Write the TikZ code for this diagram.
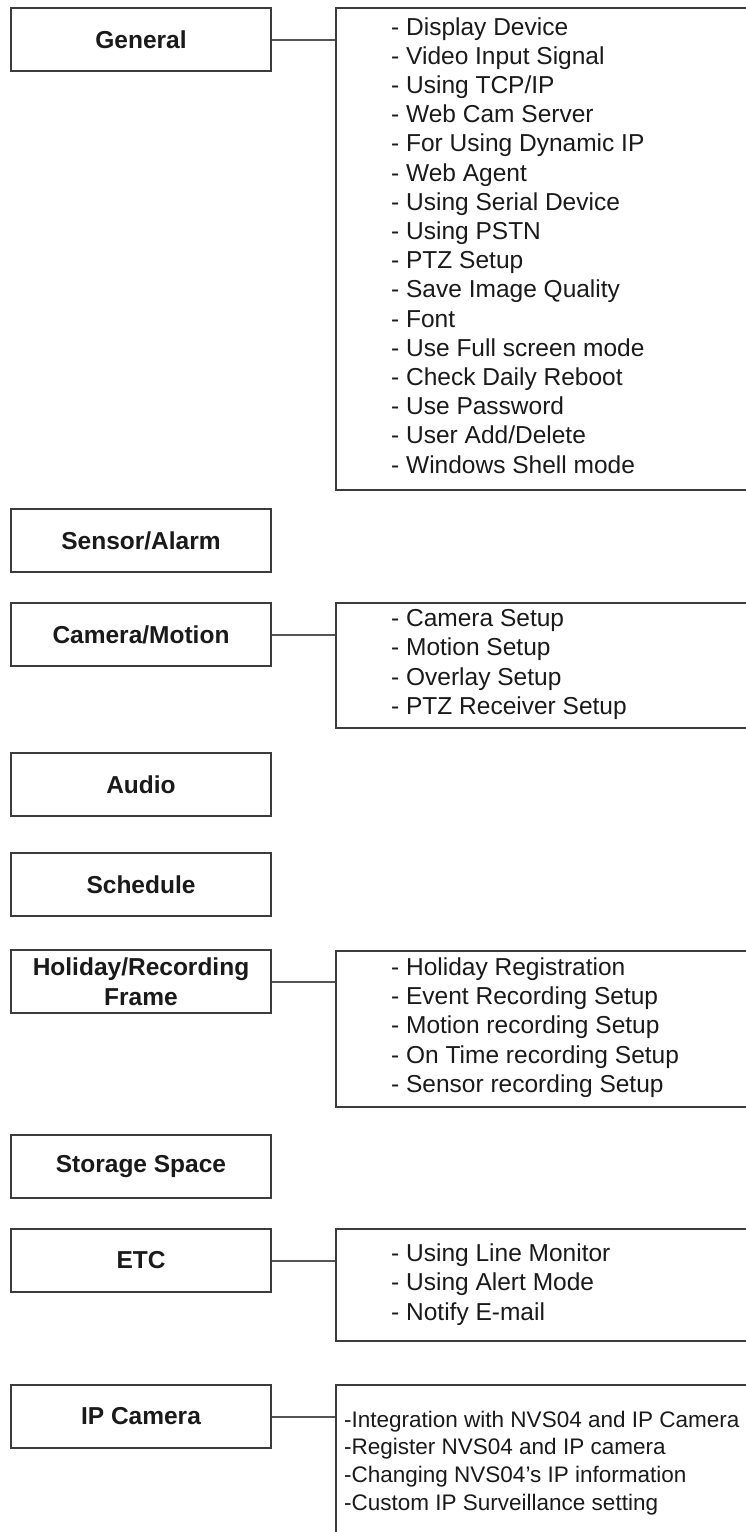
\documentclass[tikz,border=0pt]{standalone}
\usepackage{fontspec}
\setmainfont{Liberation Sans}
\definecolor{bordc}{HTML}{3C3C3C}
\definecolor{linec}{HTML}{555555}
\definecolor{txtc}{HTML}{1A1A1A}
\begin{document}
\begin{tikzpicture}[x=1pt,y=-1pt,
  lbox/.style={draw=bordc, line width=2pt, minimum width=260pt, minimum height=63pt,
    inner sep=0pt, anchor=north west, align=center, text=txtc,
    font=\fontsize{24.5}{30}\selectfont\bfseries},
  rbox/.style={draw=bordc, line width=2pt, inner sep=0pt, anchor=north west, minimum width=440pt},
  item/.style={anchor=base west, inner sep=0pt, text=txtc, font=\fontsize{24.5}{29}\selectfont},
  ipitem/.style={anchor=base west, inner sep=0pt, text=txtc, font=\fontsize{22.5}{27}\selectfont},
  link/.style={draw=linec, line width=2pt}]
\clip (0,0) rectangle (746,1532);
\fill[white] (0,0) rectangle (746,1532);

% left boxes
\node[lbox] (lg) at (10,7) {General};
\node[lbox] (ls) at (10,508) {Sensor/Alarm};
\node[lbox] (lc) at (10,602) {Camera/Motion};
\node[lbox] (la) at (10,752) {Audio};
\node[lbox] (lsc) at (10,852) {Schedule};
\node[lbox] (lh) at (10,949) {Holiday/Recording\\Frame};
\node[lbox] (lst) at (10,1134) {Storage Space};
\node[lbox] (le) at (10,1228) {ETC};
\node[lbox] (li) at (10,1384) {IP Camera};

% right boxes
\node[rbox, minimum height=482pt] (rg) at (335,7) {};
\node[rbox, minimum height=125pt] (rc) at (335,602) {};
\node[rbox, minimum height=156pt] (rh) at (335,950) {};
\node[rbox, minimum height=112pt] (re) at (335,1228) {};
\node[rbox, minimum height=170pt] (ri) at (335,1384) {};

% connectors
\draw[link] (lg.east) -- (lg.east -| rg.west);
\draw[link] (lc.east) -- (lc.east -| rc.west);
\draw[link] (lh.east) -- (lh.east -| rh.west);
\draw[link] (le.east) -- (le.east -| re.west);
\draw[link] (li.east) -- (li.east -| ri.west);

% list texts
\foreach \t [count=\i from 0] in {- Display Device, - Video Input Signal, - Using TCP/IP,
  - Web Cam Server, - For Using Dynamic IP, - Web Agent, - Using Serial Device,
  - Using PSTN, - PTZ Setup, - Save Image Quality, - Font, - Use Full screen mode,
  - Check Daily Reboot, - Use Password, - User Add/Delete, - Windows Shell mode}
  \node[item] (g\i) at ({391},{35+29.2*\i}) {\t};

\foreach \t [count=\i from 0] in {- Camera Setup, - Motion Setup, - Overlay Setup, - PTZ Receiver Setup}
  \node[item] (c\i) at ({391},{626+29.5*\i}) {\t};

\foreach \t [count=\i from 0] in {- Holiday Registration, - Event Recording Setup,
  - Motion recording Setup, - On Time recording Setup, - Sensor recording Setup}
  \node[item] (h\i) at ({391},{975+29.4*\i}) {\t};

\foreach \t [count=\i from 0] in {- Using Line Monitor, - Using Alert Mode, - Notify E-mail}
  \node[item] (e\i) at ({391},{1261+29.5*\i}) {\t};

\foreach \t [count=\i from 0] in {-Integration with NVS04 and IP Camera, -Register NVS04 and IP camera,
  -Changing NVS04’s IP information, -Custom IP Surveillance setting}
  \node[ipitem] (p\i) at ({344},{1427+27.7*\i}) {\t};
\end{tikzpicture}
\end{document}
